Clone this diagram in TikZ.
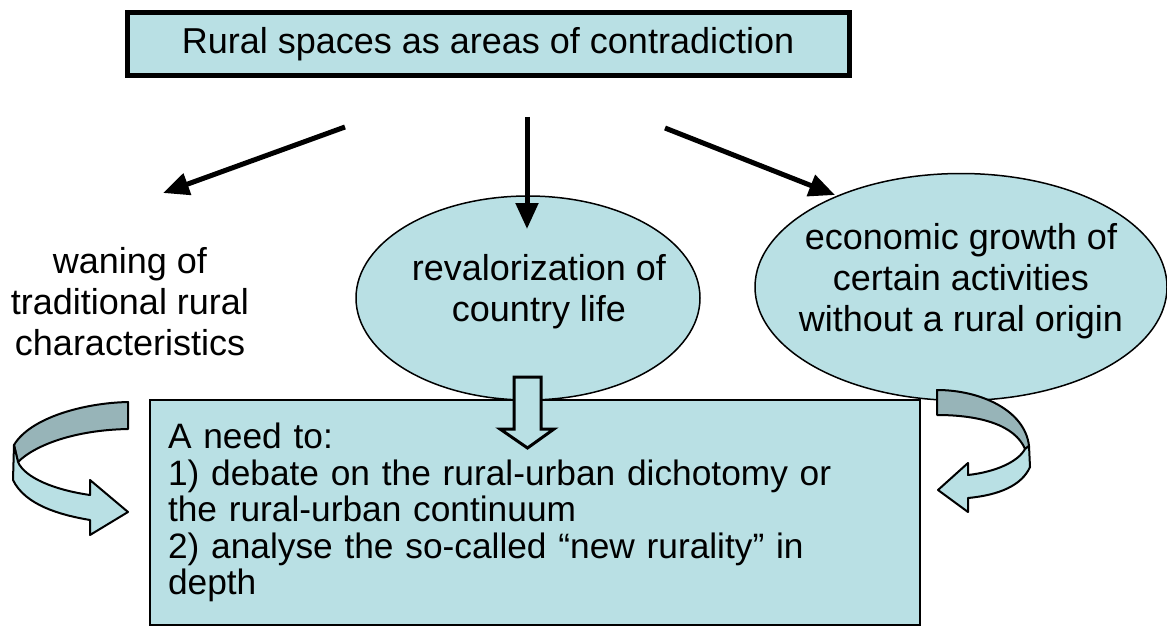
\documentclass[tikz,border=0pt]{standalone}
\usepackage{fontspec}
\setmainfont{Liberation Sans}
\definecolor{paleblue}{RGB}{185, 224, 228}
\definecolor{ribbongray}{RGB}{151, 180, 184}
\usetikzlibrary{arrows.meta, positioning, shapes.geometric}
\tikzset{
    titlebox/.style={
        rectangle,
        draw=black,
        line width=2.5pt,
        fill=paleblue,
        minimum width=361pt,
        minimum height=31.5pt,
        font=\fontsize{18}{20}\selectfont
    },
    ovalbox/.style={
        ellipse,
        draw=black,
        line width=0.75pt,
        fill=paleblue
    },
    ovaltext/.style={
        align=center,
        inner sep=0pt,
        font=\fontsize{18}{20.5}\selectfont
    },
    needbox/.style={
        rectangle,
        draw=black,
        line width=1pt,
        fill=paleblue,
        minimum width=385pt,
        minimum height=112.5pt,
        text width=367pt,
        inner xsep=9pt,
        align=left,
        font=\fontsize{17.65}{18.25}\selectfont
    },
    arrowstyle/.style={-{Triangle[length=13pt,width=11pt]}, line width=2.5pt},
    ribbon/.style={draw=black, line width=1pt, line join=round}
}
\begin{document}
\begin{tikzpicture}[x=0.5pt,y=-0.5pt]
      \useasboundingbox (0,0) rectangle (1167,626);

      % title and the three outcomes
      \node[titlebox] (title) at (488,44) {Rural spaces as areas of contradiction};
      \node[ovaltext] (waning) at (130,302) {waning of\\traditional rural\\characteristics};
      \node[ovalbox, minimum width=172pt, minimum height=102pt] (revalor) at (528,298) {};
      \node[ovaltext] (revalortext) at (539,292) {revalorization of\\country life};
      \node[ovalbox, minimum width=206pt, minimum height=113.5pt] (growth) at (961,287) {};
      \node[ovaltext] (growthtext) at (961,281) {economic growth of\\certain activities\\without a rural origin};

      \coordinate (ltail) at (345,127);
      \coordinate (lhead) at (163,193);
      \coordinate (mtail) at (527,117);
      \coordinate (mhead) at (527,229);
      \coordinate (rtail) at (665,128);
      \coordinate (rhead) at (835,195);
      \draw[arrowstyle] (ltail) -- (lhead);
      \draw[arrowstyle] (mtail) -- (mhead);
      \draw[arrowstyle] (rtail) -- (rhead);

      % conclusion box
      \node[needbox] (need) at (535,512.5) {A need to:\\1) debate on the rural-urban dichotomy or\\the rural-urban continuum\\2) analyse the so-called \textquotedblleft new rurality\textquotedblright{} in\\depth};

      % hollow arrow into the box
      \draw[line width=1.5pt, fill=paleblue, line join=miter]
        (514,377) -- (541,377) -- (541,429) -- (554,429) -- (527.5,448)
        -- (500,429) -- (514,429) -- cycle;

      % left curled arrow
      \draw[ribbon, fill=ribbongray]
        (128,402) .. controls (83,403) and (30,418) .. (14,445)
        -- (18,462) .. controls (35,445) and (75,430) .. (128,429) -- cycle;
      \draw[ribbon, fill=paleblue]
        (14,445) -- (13,480) .. controls (25,505) and (60,515) .. (90,520)
        -- (90,535) -- (128,512) -- (90,480) -- (90,495)
        .. controls (55,490) and (25,478) .. (18,462) -- cycle;

      % right curled arrow
      \draw[ribbon, fill=ribbongray]
        (937,390) .. controls (980,390) and (1025,410) .. (1029,446)
        -- (1025,449) .. controls (1015,425) and (980,415) .. (937,415) -- cycle;
      \draw[ribbon, fill=paleblue]
        (1029,446) -- (1030,467) .. controls (1022,485) and (1000,495) .. (968,498)
        -- (968,512) -- (938,490) -- (968,463) -- (968,475)
        .. controls (995,472) and (1018,462) .. (1025,449) -- cycle;
    \end{tikzpicture}
\end{document}
